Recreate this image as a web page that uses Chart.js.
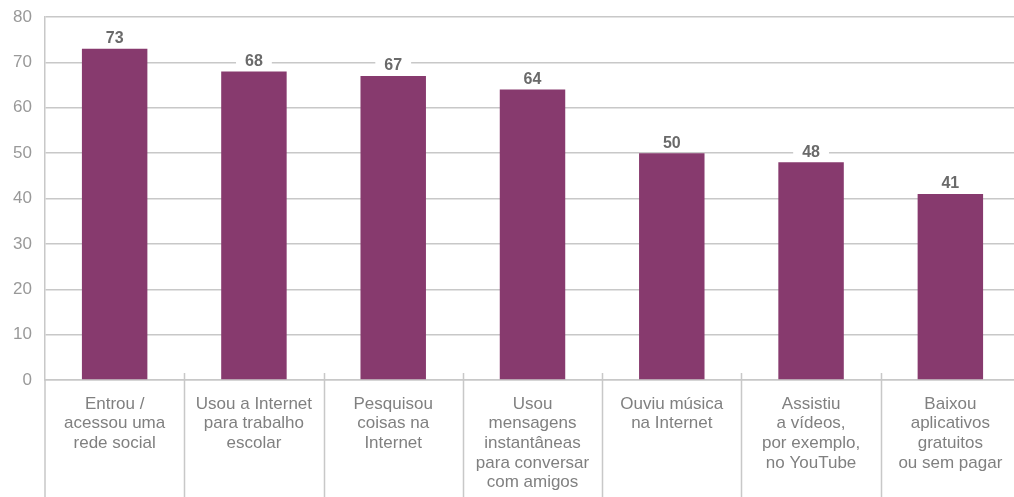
<!DOCTYPE html>
<html>
<head>
<meta charset="utf-8">
<script src="https://cdn.jsdelivr.net/npm/chart.js@4"></script>
<style>
  html, body { margin: 0; padding: 0; background: #fff; overflow: hidden; }
  #wrap { width: 1020px; height: 497px; position: relative; }
</style>
</head>
<body>
<div id="wrap"><canvas id="chart"></canvas></div>
<script>
'use strict';

// categories (multi-line labels) and values, %
var categories = [
  ['Entrou /', 'acessou uma', 'rede social'],
  ['Usou a Internet', 'para trabalho', 'escolar'],
  ['Pesquisou', 'coisas na', 'Internet'],
  ['Usou', 'mensagens', 'instantâneas', 'para conversar', 'com amigos'],
  ['Ouviu música', 'na Internet'],
  ['Assistiu', 'a vídeos,', 'por exemplo,', 'no YouTube'],
  ['Baixou', 'aplicativos', 'gratuitos', 'ou sem pagar']
];
var values = [73, 68, 67, 64, 50, 48, 41];
var yTicks = [0, 10, 20, 30, 40, 50, 60, 70, 80];

var purple = '#873a6e';
var gridGrey = '#c8c8c8';
var textGrey = '#808080';
var fontFam = '"Liberation Sans", Arial, sans-serif';

// value labels with a white knockout behind them
var valueLabels = {
  id: 'valueLabels',
  afterDatasetsDraw: function(chart) {
    var ctx = chart.ctx;
    var meta = chart.getDatasetMeta(0);
    ctx.save();
    ctx.font = 'bold 16px ' + fontFam;
    ctx.textAlign = 'center';
    ctx.textBaseline = 'middle';
    meta.data.forEach(function(bar, i) {
      var txt = String(values[i]);
      var w = ctx.measureText(txt).width;
      var y = bar.y - 10;
      ctx.fillStyle = '#fff';
      ctx.fillRect(bar.x - w / 2 - 9, y - 8, w + 18, 16);
      ctx.fillStyle = '#6a6a6a';
      ctx.fillText(txt, bar.x, y);
    });
    ctx.restore();
  }
};

// vertical separators between categories, running down through the label area
var separators = {
  id: 'separators',
  afterDraw: function(chart) {
    var ctx = chart.ctx;
    var xs = chart.scales.x;
    var area = chart.chartArea;
    ctx.save();
    ctx.strokeStyle = gridGrey;
    ctx.lineWidth = 1.5;
    ctx.beginPath();
    for (var i = 1; i < categories.length; i++) {
      var x = Math.round((xs.getPixelForValue(i - 1) + xs.getPixelForValue(i)) / 2) + 0.5;
      ctx.moveTo(x, area.bottom - 7);
      ctx.lineTo(x, chart.height);
    }
    ctx.moveTo(area.left, area.bottom);
    ctx.lineTo(area.left, chart.height);
    ctx.stroke();
    ctx.restore();
  }
};

var chart = new Chart(document.getElementById('chart'), {
  type: 'bar',
  data: {
    labels: categories,
    datasets: [{
      data: values,
      backgroundColor: purple,
      borderWidth: 0,
      barPercentage: 0.47,
      categoryPercentage: 1
    }]
  },
  options: {
    responsive: true,
    maintainAspectRatio: false,
    animation: false,
    layout: { padding: { top: 17, left: 0, right: 0, bottom: 0 } },
    plugins: {
      legend: { display: false },
      tooltip: { enabled: false }
    },
    scales: {
      x: {
        grid: { display: false },
        border: { color: gridGrey, width: 1.5 },
        ticks: {
          color: textGrey,
          font: { family: fontFam, size: 17, lineHeight: '19.7px' },
          padding: 6,
          maxRotation: 0,
          autoSkip: false
        },
        afterFit: function(scale) { scale.height = 117; }
      },
      y: {
        min: 0,
        max: 80,
        afterBuildTicks: function(scale) {
          scale.ticks = yTicks.map(function(v) { return { value: v }; });
        },
        grid: { color: gridGrey, lineWidth: 1.5, drawTicks: false },
        border: { color: gridGrey, width: 1.5 },
        ticks: {
          color: '#999',
          font: { family: fontFam, size: 17 },
          padding: 13
        },
        afterFit: function(scale) {
          scale.width = 45;
          scale.paddingTop = 0;
          scale.paddingBottom = 0;
        }
      }
    }
  },
  plugins: [valueLabels, separators]
});
</script>
</body>
</html>
